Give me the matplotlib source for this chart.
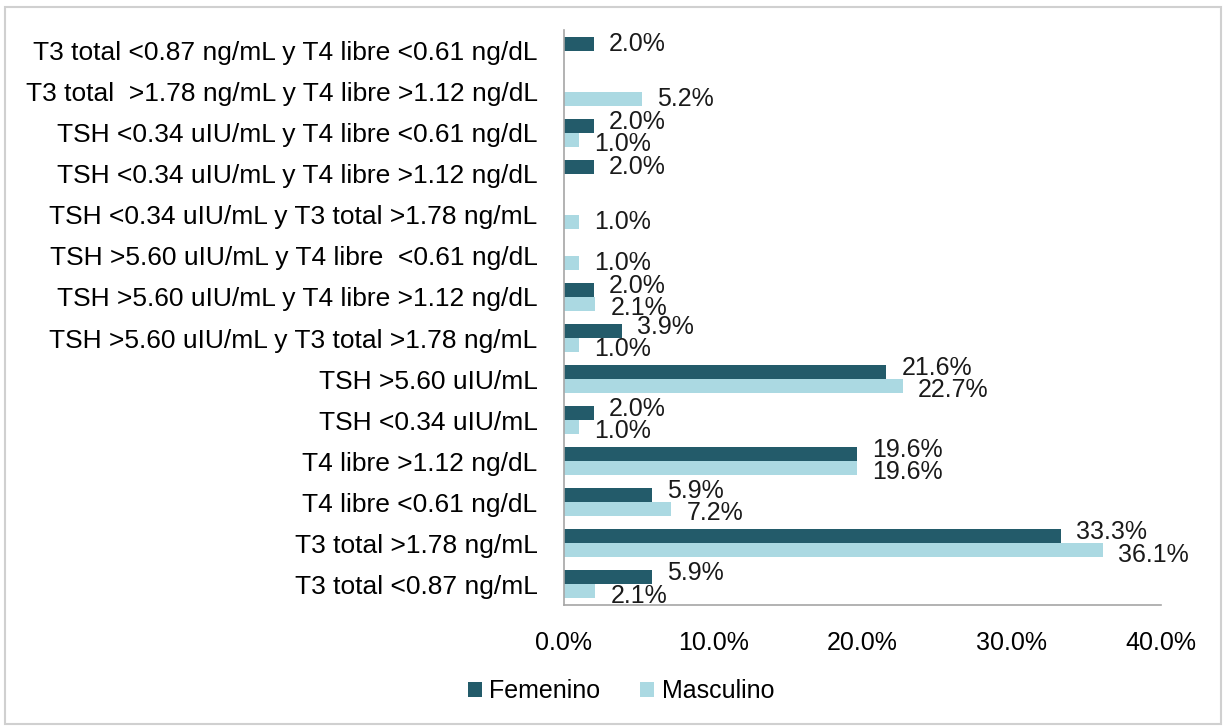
"""Prevalencia de alteraciones tiroideas por sexo (barras horizontales agrupadas)."""
import matplotlib
matplotlib.use("Agg")
import matplotlib.pyplot as plt
import numpy as np
from matplotlib.patches import Rectangle

plt.rcParams["font.family"] = ["Liberation Sans", "DejaVu Sans"]

# Categories listed from top to bottom as in the chart
categories = [
    "T3 total <0.87 ng/mL y T4 libre <0.61 ng/dL",
    "T3 total  >1.78 ng/mL y T4 libre >1.12 ng/dL",
    "TSH <0.34 uIU/mL y T4 libre <0.61 ng/dL",
    "TSH <0.34 uIU/mL y T4 libre >1.12 ng/dL",
    "TSH <0.34 uIU/mL y T3 total >1.78 ng/mL",
    "TSH >5.60 uIU/mL y T4 libre  <0.61 ng/dL",
    "TSH >5.60 uIU/mL y T4 libre >1.12 ng/dL",
    "TSH >5.60 uIU/mL y T3 total >1.78 ng/mL",
    "TSH >5.60 uIU/mL",
    "TSH <0.34 uIU/mL",
    "T4 libre >1.12 ng/dL",
    "T4 libre <0.61 ng/dL",
    "T3 total >1.78 ng/mL",
    "T3 total <0.87 ng/mL",
]
femenino = [2.0, 0.0, 2.0, 2.0, 0.0, 0.0, 2.0, 3.9, 21.6, 2.0, 19.6, 5.9, 33.3, 5.9]
masculino = [0.0, 5.2, 1.0, 0.0, 1.0, 1.0, 2.1, 1.0, 22.7, 1.0, 19.6, 7.2, 36.1, 2.1]
x_ticks = [0, 10, 20, 30, 40]

DARK = "#235B6A"
LIGHT = "#ABD9E2"
FS = 18

fig = plt.figure(figsize=(12.25, 7.26), dpi=100)
fig.patches.append(Rectangle((0.004, 0.003), 0.993, 0.987, transform=fig.transFigure,
                             fill=False, edgecolor="#d0d0d0", linewidth=1.5))
ax = fig.add_axes([0.4604, 0.1667, 0.4874, 0.7920])

n = len(categories)
y = np.arange(n)[::-1]  # first category at the top
h = 0.34

fem = np.array(femenino)
mas = np.array(masculino)
ax.barh(y + h / 2, fem, height=h, color=DARK, label="Femenino")
ax.barh(y - h / 2, mas, height=h, color=LIGHT, label="Masculino")

# data labels (skip empty categories); pairs pushed slightly apart like Excel does
for yy, v, other in zip(y + h / 2, fem, mas):
    if v > 0:
        dy = 3 if other > 0 else 0
        ax.annotate(f"{v:.1f}%", (v, yy), xytext=(11, dy), textcoords="offset points",
                    va="center", ha="left", fontsize=FS, color="#1a1a1a")
for yy, v, other in zip(y - h / 2, mas, fem):
    if v > 0:
        dy = -3 if other > 0 else 0
        ax.annotate(f"{v:.1f}%", (v, yy), xytext=(11, dy), textcoords="offset points",
                    va="center", ha="left", fontsize=FS, color="#1a1a1a")

ax.set_yticks(y)
ax.set_yticklabels(categories, fontsize=19)
ax.set_xlim(0, 40)
ax.set_ylim(-0.5, n - 0.5)
ax.set_xticks(x_ticks)
ax.set_xticklabels([f"{t:.1f}%" for t in x_ticks], fontsize=FS)
ax.tick_params(axis="y", length=0, pad=19)
ax.tick_params(axis="x", length=0, pad=19)

for side in ("top", "right"):
    ax.spines[side].set_visible(False)
for side in ("left", "bottom"):
    ax.spines[side].set_color("#a6a6a6")
    ax.spines[side].set_linewidth(1.2)

fig.legend(loc="center", bbox_to_anchor=(0.507, 0.048), ncol=2, frameon=False,
           fontsize=FS, handlelength=0.55, handleheight=0.55, handletextpad=0.3,
           columnspacing=1.6)

fig.savefig("out.png", dpi=100)
